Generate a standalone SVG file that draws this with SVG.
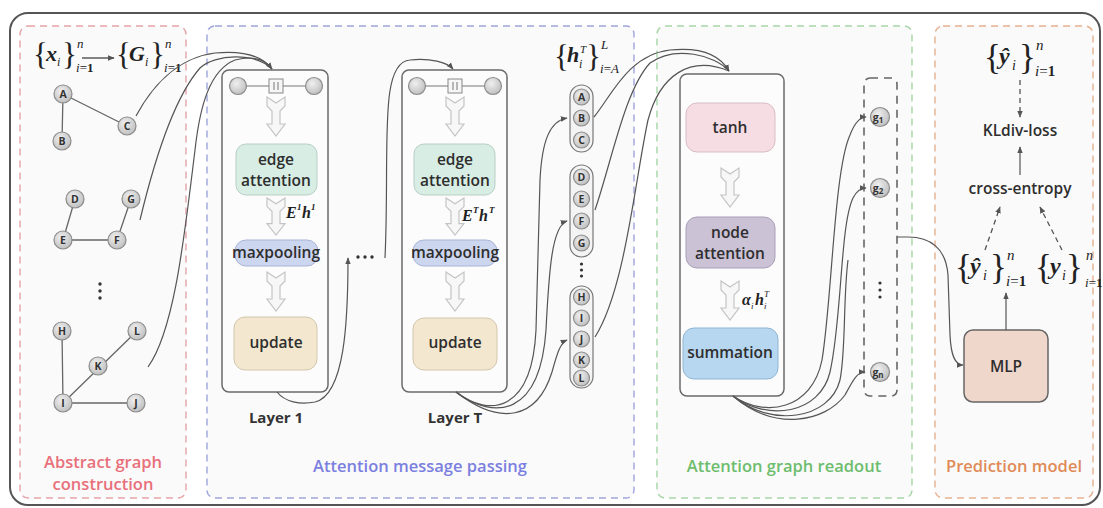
<svg xmlns="http://www.w3.org/2000/svg" width="1103" height="508" viewBox="0 0 1103 508">
<style>
.panel{fill:#fafafa;stroke-width:1.4;stroke-dasharray:7 5}
.layer{fill:#fcfcfc;stroke:#6a6a6a;stroke-width:1.5}
.bt{font-family:"Open Sans","Liberation Sans",sans-serif;font-weight:600;font-size:15.5px;fill:#2e2e2e;text-anchor:middle}
.lt{font-family:"Open Sans","Liberation Sans",sans-serif;font-weight:700;font-size:15px;fill:#333;text-anchor:middle}
.pl{font-family:"Open Sans","Liberation Sans",sans-serif;font-weight:600;font-size:16.5px;text-anchor:middle}
.nd{fill:url(#ng);stroke:#8c8c8c;stroke-width:1.2}
.nl{font-family:"Open Sans","Liberation Sans",sans-serif;font-weight:700;font-size:10.5px;fill:#333;text-anchor:middle}
.cap{fill:#f4f4f4;stroke:#777;stroke-width:1.2}
.conn{fill:none;stroke:#555;stroke-width:1.2}
.dash{fill:none;stroke:#555;stroke-width:1.3;stroke-dasharray:5 4}
.m{font-family:"Liberation Serif",serif;fill:#222}
.mi{font-family:"Liberation Serif",serif;font-style:italic;font-weight:700;fill:#222}
.ms{font-family:"Liberation Serif",serif;font-style:italic;fill:#222}
.dot{fill:#333}
</style>
<defs>
<radialGradient id="ng" cx="0.4" cy="0.35" r="0.7">
<stop offset="0" stop-color="#efefef"/><stop offset="1" stop-color="#bdbdbd"/>
</radialGradient>
<marker id="ah" viewBox="0 0 10 10" refX="9" refY="5" markerWidth="7" markerHeight="7" orient="auto" markerUnits="userSpaceOnUse">
<path d="M0,1 L10,5 L0,9 z" fill="#555"/>
</marker>
<path id="ha" d="M-9,0 L0,6 L9,0 L9,9 L4,14 L4,27 L9,27 L0,39 L-9,27 L-4,27 L-4,14 L-9,9 Z" fill="#f7f7f7" stroke="#c4c4c4" stroke-width="1.2"/>
<g id="topnodes">
<line x1="-30" y1="0" x2="30" y2="0" stroke="#777" stroke-width="1.2"/>
<circle cx="-38" cy="0" r="8.5" class="nd"/>
<circle cx="38" cy="0" r="8.5" class="nd"/>
<rect x="-7" y="-7" width="14" height="14" fill="#f6f6f6" stroke="#888" stroke-width="1"/>
<line x1="-2" y1="-4" x2="-2" y2="4" stroke="#777" stroke-width="1"/>
<line x1="2" y1="-4" x2="2" y2="4" stroke="#777" stroke-width="1"/>
</g>
</defs>

<rect x="0" y="0" width="1103" height="508" fill="#ffffff"/>
<rect id="frame" x="10" y="13" width="1090" height="492" rx="18" fill="#ffffff" stroke="#555" stroke-width="2"/>

<!-- panels -->
<g id="panel-abstract">
<rect x="20" y="26" width="166" height="472" rx="8" class="panel" stroke="#e6a3a7"/>
<text class="pl" x="103" y="468" fill="#e8707a">Abstract graph</text>
<text class="pl" x="103" y="490" fill="#e8707a">construction</text>
</g>
<g id="panel-mp">
<rect x="207" y="26" width="427" height="472" rx="8" class="panel" stroke="#9fa5dc"/>
<text class="pl" x="420" y="472" fill="#7b80e0">Attention message passing</text>
</g>
<g id="panel-readout">
<rect x="657" y="26" width="255" height="472" rx="8" class="panel" stroke="#a8d6a8"/>
<text class="pl" x="784" y="472" fill="#6dbd6d">Attention graph readout</text>
</g>
<g id="panel-pred">
<rect x="935" y="26" width="158" height="472" rx="8" class="panel" stroke="#e6b191"/>
<text class="pl" x="1014" y="472" fill="#e08a58">Prediction model</text>
</g>

<!-- left formula -->
<g id="formula-xg">
<text class="m" x="33" y="65" font-size="31">{</text>
<text class="mi" x="46" y="61" font-size="22">x</text>
<text class="ms" x="57" y="66" font-size="12">i</text>
<text class="m" x="62" y="65" font-size="31">}</text>
<text class="ms" x="77" y="48" font-size="13">n</text>
<text class="m" x="76" y="72" font-size="13"><tspan font-style="italic">i</tspan>=<tspan font-weight="700">1</tspan></text>
<line x1="82" y1="58" x2="114" y2="58" stroke="#333" stroke-width="1.2" marker-end="url(#ah)"/>
<text class="m" x="116" y="65" font-size="31">{</text>
<text class="mi" x="129" y="61" font-size="22">G</text>
<text class="ms" x="145" y="66" font-size="12">i</text>
<text class="m" x="150" y="65" font-size="31">}</text>
<text class="ms" x="165" y="48" font-size="13">n</text>
<text class="m" x="164" y="72" font-size="13"><tspan font-style="italic">i</tspan>=<tspan font-weight="700">1</tspan></text>
</g>

<!-- left graphs -->
<g id="graph1">
<g stroke="#666" stroke-width="1.3"><line x1="63" y1="94" x2="62" y2="141"/><line x1="63" y1="94" x2="127" y2="126"/></g>
<circle cx="63" cy="94" r="9" class="nd"/><text class="nl" x="63" y="98">A</text>
<circle cx="62" cy="141" r="9" class="nd"/><text class="nl" x="62" y="145">B</text>
<circle cx="127" cy="126" r="9" class="nd"/><text class="nl" x="127" y="130">C</text>
</g>
<g id="graph2">
<g stroke="#666" stroke-width="1.3"><line x1="75" y1="199" x2="63" y2="240"/><line x1="63" y1="240" x2="117" y2="240"/><line x1="117" y1="240" x2="131" y2="199"/></g>
<circle cx="75" cy="199" r="9" class="nd"/><text class="nl" x="75" y="203">D</text>
<circle cx="131" cy="199" r="9" class="nd"/><text class="nl" x="131" y="203">G</text>
<circle cx="63" cy="240" r="9" class="nd"/><text class="nl" x="63" y="244">E</text>
<circle cx="117" cy="240" r="9" class="nd"/><text class="nl" x="117" y="244">F</text>
</g>
<g id="graph-dots"><circle cx="100" cy="284" r="1.7" class="dot"/><circle cx="100" cy="291" r="1.7" class="dot"/><circle cx="100" cy="298" r="1.7" class="dot"/></g>
<g id="graph3">
<g stroke="#666" stroke-width="1.3"><line x1="62" y1="331" x2="63" y2="403"/><line x1="63" y1="403" x2="137" y2="331"/><line x1="63" y1="403" x2="136" y2="403"/></g>
<circle cx="62" cy="331" r="9" class="nd"/><text class="nl" x="62" y="335">H</text>
<circle cx="137" cy="331" r="9" class="nd"/><text class="nl" x="137" y="335">L</text>
<circle cx="98" cy="366" r="9" class="nd"/><text class="nl" x="98" y="370">K</text>
<circle cx="63" cy="403" r="9" class="nd"/><text class="nl" x="63" y="407">I</text>
<circle cx="136" cy="403" r="9" class="nd"/><text class="nl" x="136" y="407">J</text>
</g>

<!-- Layer 1 -->
<g id="layer1">
<rect x="222" y="70" width="106" height="322" rx="7" class="layer"/>
<use href="#topnodes" transform="translate(276,86)"/>
<use href="#ha" transform="translate(276,97)"/>
<rect x="236" y="144" width="81" height="51" rx="10" fill="#d8ede4" stroke="#b8cfc6"/>
<text class="bt" x="276" y="165">edge</text>
<text class="bt" x="276" y="186">attention</text>
<use href="#ha" transform="translate(276,198) scale(1,0.95)"/>
<text class="mi" x="286" y="218" font-size="16">E</text><text class="mi" x="297" y="210" font-size="9">1</text>
<text class="mi" x="302" y="218" font-size="16">h</text><text class="mi" x="311" y="210" font-size="9">1</text>
<rect x="235" y="240" width="83" height="26" rx="11" fill="#cdd6ef" stroke="#a9b4d6"/>
<text class="bt" x="276" y="258">maxpooling</text>
<use href="#ha" transform="translate(276,272)"/>
<rect x="234" y="317" width="83" height="53" rx="11" fill="#f3e7d0" stroke="#d3c6ac"/>
<text class="bt" x="276" y="348">update</text>
<text class="lt" x="276" y="423">Layer 1</text>
</g>

<g id="layer-dots"><circle cx="358" cy="257" r="1.7" class="dot"/><circle cx="365" cy="257" r="1.7" class="dot"/><circle cx="372" cy="257" r="1.7" class="dot"/></g>

<!-- Layer T -->
<g id="layerT">
<rect x="402" y="70" width="105" height="322" rx="7" class="layer"/>
<use href="#topnodes" transform="translate(455,86)"/>
<use href="#ha" transform="translate(455,97)"/>
<rect x="414" y="144" width="81" height="51" rx="10" fill="#d8ede4" stroke="#b8cfc6"/>
<text class="bt" x="455" y="165">edge</text>
<text class="bt" x="455" y="186">attention</text>
<use href="#ha" transform="translate(455,198) scale(1,0.95)"/>
<text class="mi" x="462" y="221" font-size="16">E</text><text class="mi" x="473" y="213" font-size="9">T</text>
<text class="mi" x="479" y="221" font-size="16">h</text><text class="mi" x="489" y="213" font-size="9">T</text>
<rect x="413" y="240" width="84" height="26" rx="11" fill="#cdd6ef" stroke="#a9b4d6"/>
<text class="bt" x="455" y="258">maxpooling</text>
<use href="#ha" transform="translate(455,272)"/>
<rect x="413" y="318" width="84" height="52" rx="11" fill="#f3e7d0" stroke="#d3c6ac"/>
<text class="bt" x="455" y="348">update</text>
<text class="lt" x="455" y="423">Layer T</text>
</g>

<!-- h formula -->
<g id="formula-h">
<text class="m" x="554" y="67" font-size="31">{</text>
<text class="mi" x="567" y="62" font-size="22">h</text>
<text class="ms" x="580" y="53" font-size="11">T</text>
<text class="ms" x="579" y="68" font-size="12">i</text>
<text class="m" x="586" y="67" font-size="31">}</text>
<text class="ms" x="601" y="49" font-size="13">L</text>
<text class="m" x="600" y="73" font-size="13"><tspan font-style="italic">i</tspan>=<tspan font-style="italic">A</tspan></text>
</g>

<!-- node capsules -->
<g id="cap-ABC">
<rect x="570" y="85" width="23" height="67" rx="11.5" class="cap"/>
<circle cx="581.5" cy="97" r="8" class="nd"/><text class="nl" x="581.5" y="101">A</text>
<circle cx="581.5" cy="118" r="8" class="nd"/><text class="nl" x="581.5" y="122">B</text>
<circle cx="581.5" cy="140" r="8" class="nd"/><text class="nl" x="581.5" y="144">C</text>
</g>
<g id="cap-DEFG">
<rect x="570" y="165" width="23" height="92" rx="11.5" class="cap"/>
<circle cx="581.5" cy="177" r="8" class="nd"/><text class="nl" x="581.5" y="181">D</text>
<circle cx="581.5" cy="199" r="8" class="nd"/><text class="nl" x="581.5" y="203">E</text>
<circle cx="581.5" cy="221" r="8" class="nd"/><text class="nl" x="581.5" y="225">F</text>
<circle cx="581.5" cy="243" r="8" class="nd"/><text class="nl" x="581.5" y="247">G</text>
</g>
<g id="cap-dots"><circle cx="581.5" cy="264" r="1.6" class="dot"/><circle cx="581.5" cy="270" r="1.6" class="dot"/><circle cx="581.5" cy="276" r="1.6" class="dot"/></g>
<g id="cap-HIJKL">
<rect x="570" y="286" width="23" height="102" rx="11.5" class="cap"/>
<circle cx="581.5" cy="297" r="8" class="nd"/><text class="nl" x="581.5" y="301">H</text>
<circle cx="581.5" cy="318" r="8" class="nd"/><text class="nl" x="581.5" y="322">I</text>
<circle cx="581.5" cy="339" r="8" class="nd"/><text class="nl" x="581.5" y="343">J</text>
<circle cx="581.5" cy="360" r="8" class="nd"/><text class="nl" x="581.5" y="364">K</text>
<circle cx="581.5" cy="378" r="8" class="nd"/><text class="nl" x="581.5" y="382">L</text>
</g>

<!-- readout -->
<g id="readout">
<rect x="680" y="74" width="104" height="322" rx="7" class="layer"/>
<rect x="686" y="103" width="89" height="49" rx="11" fill="#f6dde3" stroke="#d9bcc4"/>
<text class="bt" x="730" y="133">tanh</text>
<use href="#ha" transform="translate(730,168)"/>
<rect x="686" y="217" width="89" height="51" rx="11" fill="#cbc2d6" stroke="#a99fb8"/>
<text class="bt" x="730" y="238">node</text>
<text class="bt" x="730" y="259">attention</text>
<use href="#ha" transform="translate(730,281)"/>
<text class="mi" x="742" y="305" font-size="16">α</text><text class="ms" x="751" y="309" font-size="9">i</text>
<text class="mi" x="755" y="305" font-size="16">h</text><text class="ms" x="764" y="297" font-size="9">T</text><text class="ms" x="764" y="309" font-size="9">i</text>
<rect x="683" y="328" width="95" height="51" rx="11" fill="#b6d7ef" stroke="#8fb5d3"/>
<text class="bt" x="730" y="358">summation</text>
</g>

<!-- g column -->
<g id="g-column">
<rect x="864" y="78" width="33" height="318" rx="6" fill="none" stroke="#666" stroke-width="1.6" stroke-dasharray="8 6"/>
<circle cx="880" cy="117" r="9.5" class="nd"/><text class="nl" x="878" y="121" font-weight="600" font-size="11">g<tspan font-size="8" dy="2">1</tspan></text>
<circle cx="880" cy="188" r="9.5" class="nd"/><text class="nl" x="878" y="192" font-weight="600" font-size="11">g<tspan font-size="8" dy="2">2</tspan></text>
<circle cx="880" cy="283" r="1.6" class="dot"/><circle cx="880" cy="290" r="1.6" class="dot"/><circle cx="880" cy="297" r="1.6" class="dot"/>
<circle cx="880" cy="372" r="9.5" class="nd"/><text class="nl" x="878" y="376" font-weight="600" font-size="11">g<tspan font-size="8" dy="2">n</tspan></text>
</g>

<!-- prediction -->
<g id="mlp">
<rect x="964" y="330" width="84" height="72" rx="9" fill="#f0d7cb" stroke="#666" stroke-width="1.5"/>
<text class="bt" x="1006" y="372">MLP</text>
</g>
<g id="formula-yhat-top">
<text class="m" x="984" y="69" font-size="35">{</text>
<text class="mi" x="999" y="64" font-size="24">ŷ</text>
<text class="ms" x="1012" y="70" font-size="14">i</text>
<text class="m" x="1019" y="69" font-size="35">}</text>
<text class="ms" x="1036" y="50" font-size="15">n</text>
<text class="m" x="1035" y="76" font-size="15"><tspan font-style="italic">i</tspan>=<tspan font-weight="700">1</tspan></text>
</g>
<g id="kl"><text class="bt" x="1020" y="136">KLdiv-loss</text></g>
<g id="ce"><text class="bt" x="1020" y="194">cross-entropy</text></g>
<g id="formula-yhat">
<text class="m" x="955" y="279" font-size="35">{</text>
<text class="mi" x="970" y="274" font-size="24">ŷ</text>
<text class="ms" x="983" y="280" font-size="14">i</text>
<text class="m" x="990" y="279" font-size="35">}</text>
<text class="ms" x="1007" y="260" font-size="15">n</text>
<text class="m" x="1006" y="286" font-size="15"><tspan font-style="italic">i</tspan>=<tspan font-weight="700">1</tspan></text>
</g>
<g id="formula-y">
<text class="m" x="1035" y="279" font-size="35">{</text>
<text class="mi" x="1050" y="274" font-size="24">y</text>
<text class="ms" x="1062" y="280" font-size="14">i</text>
<text class="m" x="1066" y="279" font-size="35">}</text>
<text class="ms" x="1086" y="260" font-size="14">n</text>
<text class="m" x="1085" y="287" font-size="13"><tspan font-style="italic">i</tspan>=<tspan font-weight="700">1</tspan></text>
</g>

<!-- connectors -->
<g id="connectors">
<path class="conn" d="M136,116 C150,90 175,58 215,53 C245,50 262,56 272,69" marker-end="url(#ah)"/>
<path class="conn" d="M140,220 C152,170 172,100 200,68 C215,54 255,52 272,69"/>
<path class="conn" d="M148,367 C175,330 185,230 195,150 C200,105 210,70 235,60 C255,55 266,60 272,69"/>
<path class="conn" d="M277,392 C285,402 300,405 315,402 C345,395 348,320 348,258" marker-end="url(#ah)"/>
<path class="conn" d="M385,258 C390,150 378,62 410,60 C430,58 447,62 453,69" marker-end="url(#ah)"/>
<path class="conn" d="M456,392 C490,418 532,412 536,330 L540,180 C542,140 550,121 567,118" marker-end="url(#ah)"/>
<path class="conn" d="M456,392 C495,421 540,416 546,330 C549,270 552,226 567,221" marker-end="url(#ah)"/>
<path class="conn" d="M456,392 C500,426 537,420 552,372 C557,354 560,343 567,340" marker-end="url(#ah)"/>
<path class="conn" d="M594,117 C612,95 628,55 670,50 C700,47 720,55 729,71" marker-end="url(#ah)"/>
<path class="conn" d="M595,210 C612,160 625,90 650,63 C675,45 715,55 729,71"/>
<path class="conn" d="M595,337 C625,290 635,180 648,120 C660,75 690,55 729,71"/>
<path class="conn" d="M733,396 C765,418 812,410 822,360 C832,300 834,170 850,135 C855,122 860,117 866,117" marker-end="url(#ah)"/>
<path class="conn" d="M733,396 C768,422 820,414 830,372 C842,320 840,225 853,198 C857,190 861,188 866,188" marker-end="url(#ah)"/>
<path class="conn" d="M733,396 C770,428 830,420 840,380 C846,350 843,300 848,260"/>
<path class="conn" d="M733,396 C775,432 825,422 845,395 C853,380 857,372 865,372" marker-end="url(#ah)"/>
<path class="conn" d="M897,237 L908,237 C930,237 946,248 948,275 L950,335 C951,356 955,365 963,365" marker-end="url(#ah)"/>
<line class="conn" x1="1006" y1="330" x2="1006" y2="293" marker-end="url(#ah)"/>
<line class="dash" x1="1020" y1="80" x2="1020" y2="117" marker-end="url(#ah)"/>
<line class="conn" x1="1020" y1="175" x2="1020" y2="147" marker-end="url(#ah)"/>
<line class="dash" x1="985" y1="250" x2="1000" y2="207" marker-end="url(#ah)"/>
<line class="dash" x1="1062" y1="250" x2="1040" y2="207" marker-end="url(#ah)"/>
</g>
</svg>
